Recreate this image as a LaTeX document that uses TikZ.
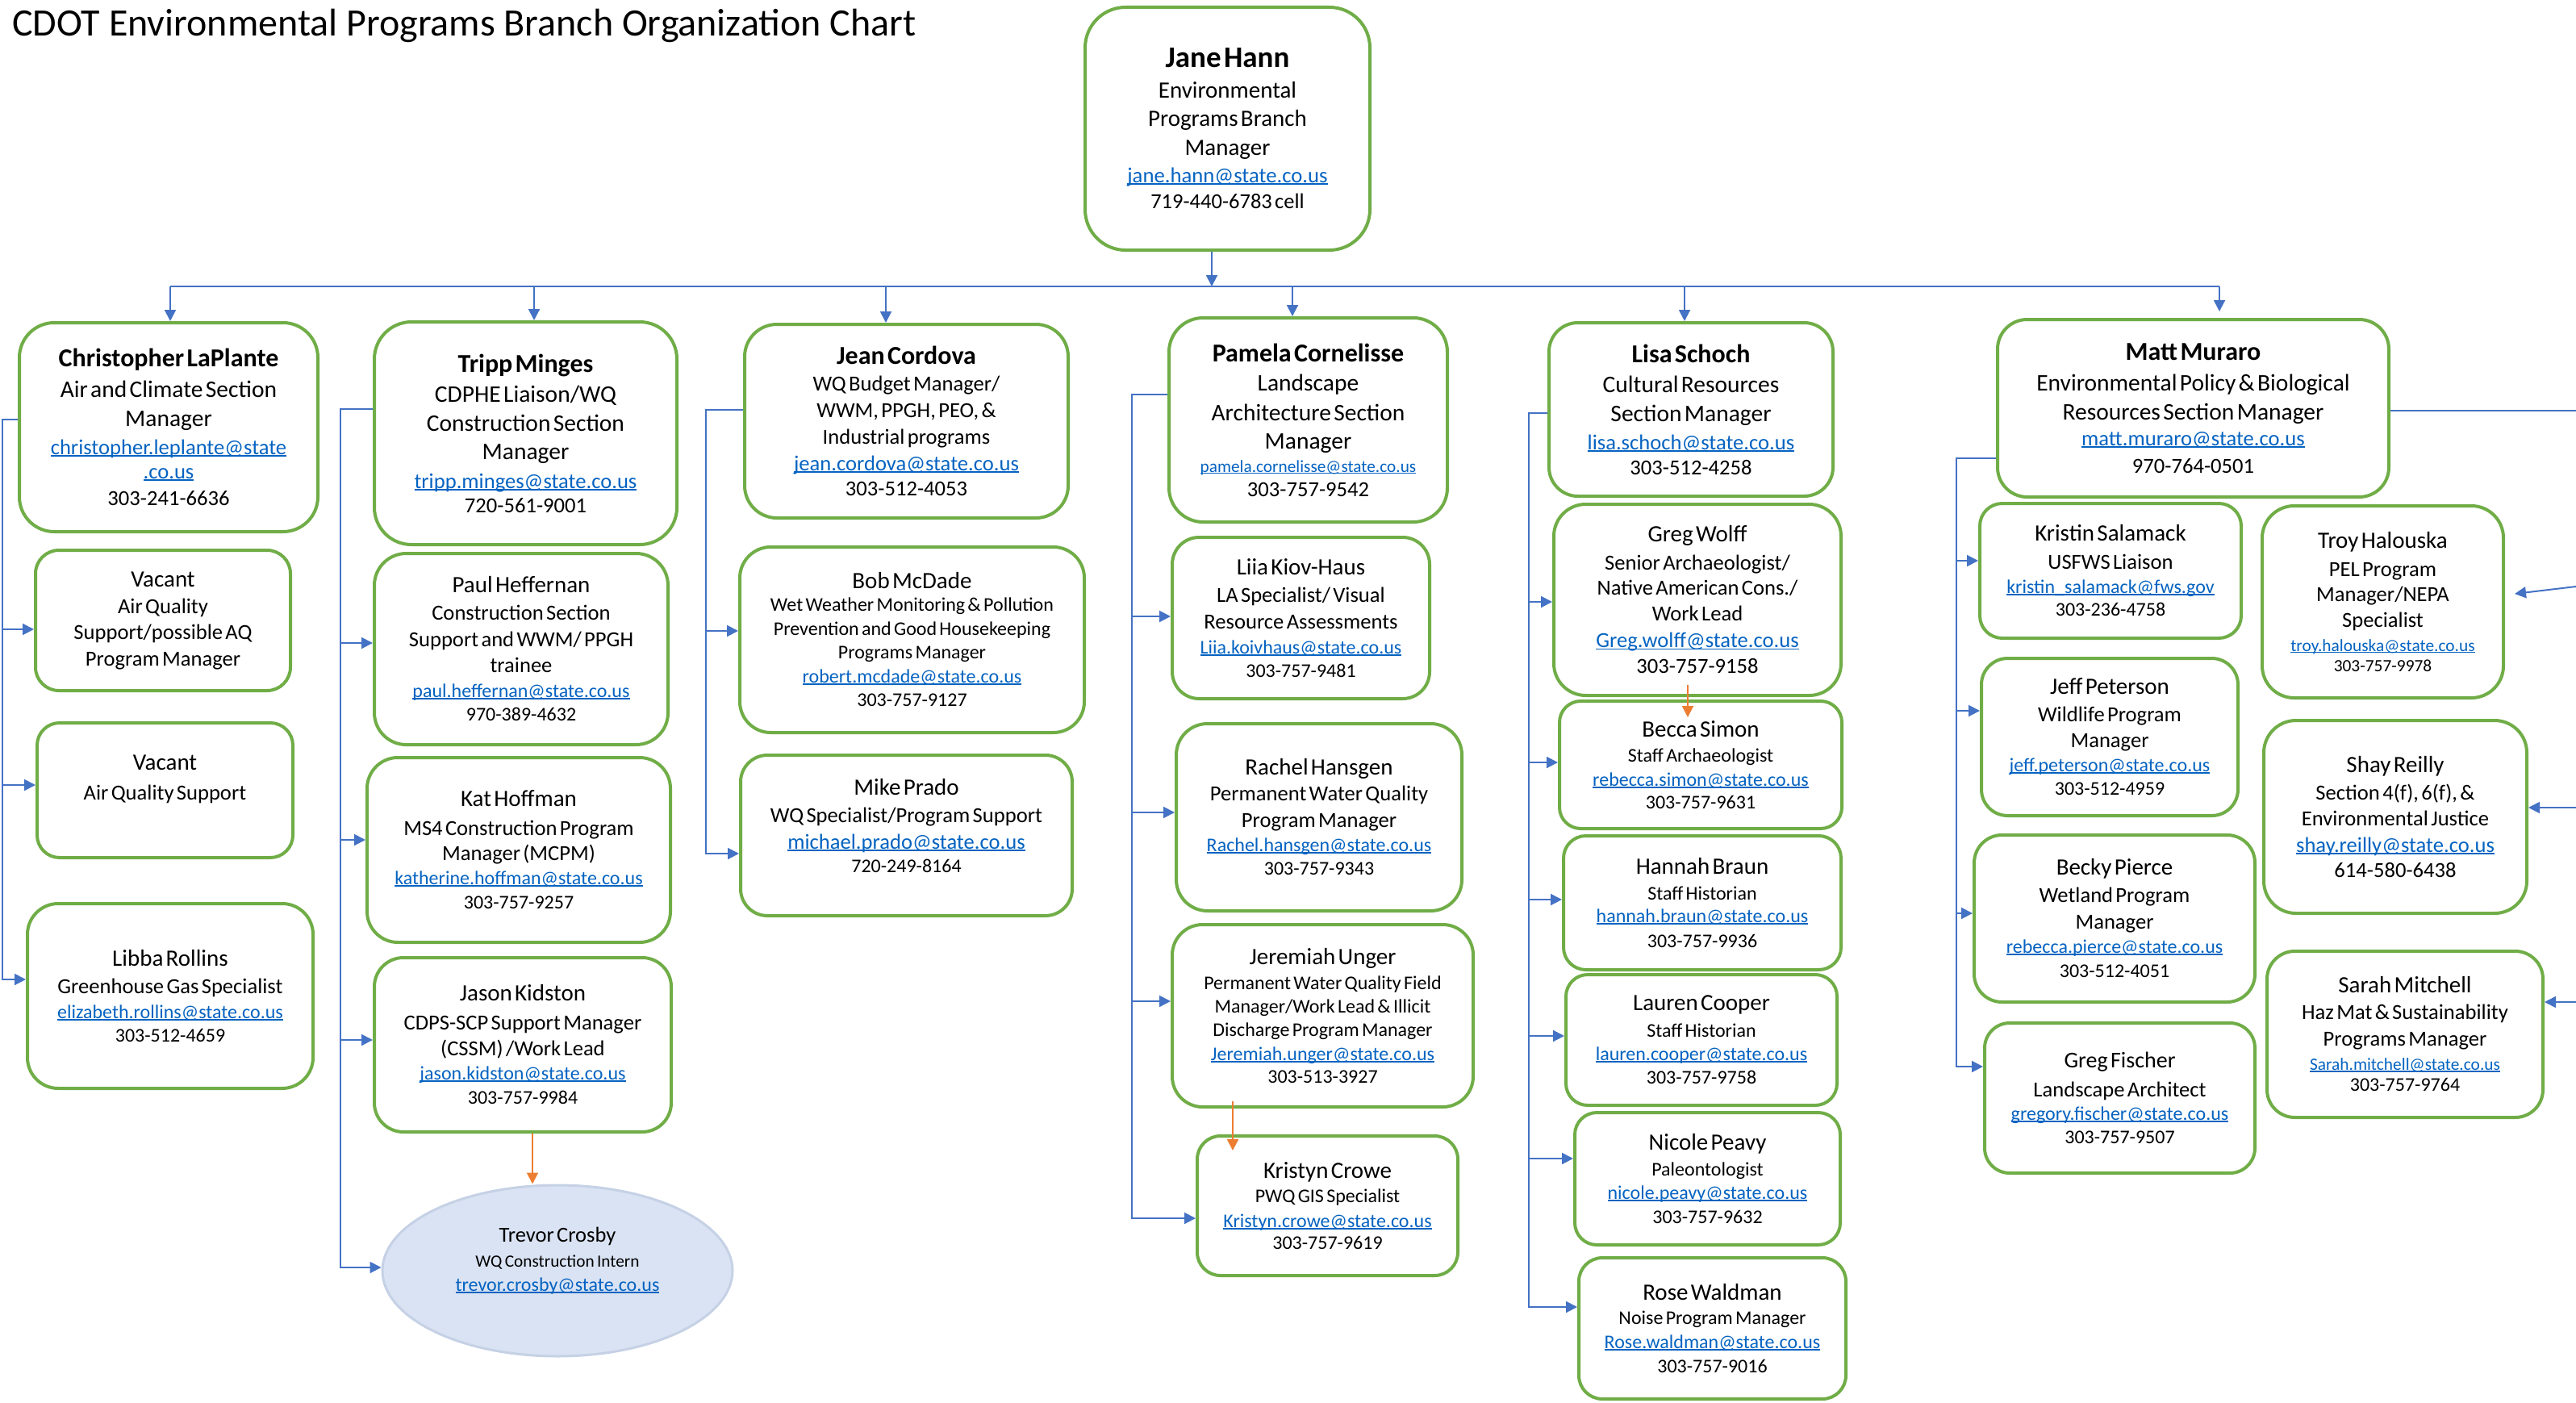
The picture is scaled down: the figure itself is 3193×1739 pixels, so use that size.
\documentclass[tikz,border=0pt]{standalone}
\usepackage{fontspec}
\setmainfont{Carlito}
\usetikzlibrary{arrows.meta,shapes.geometric,calc}
\definecolor{grn}{HTML}{70AD47}
\definecolor{blu}{HTML}{4472C4}
\definecolor{org}{HTML}{ED7D31}
\definecolor{lnk}{HTML}{0563C1}
\definecolor{elfill}{HTML}{DAE3F3}
\definecolor{eldraw}{HTML}{C5D1E5}
\newcommand\Tl[3]{{\fontsize{#1}{#2}\selectfont #3\par}}
\newcommand\Tb[3]{{\fontsize{#1}{#2}\selectfont\bfseries #3\par}}
\newcommand\mail[1]{\textcolor{lnk}{\setbox0=\hbox{#1}\rlap{\rule[-0.09em]{\wd0}{0.07em}}\box0}}
\tikzset{
  pbx/.style={draw=grn, line width=4pt, fill=white, inner sep=0pt, align=center,
    execute at begin node={\parindent=0pt\parskip=0pt}},
  ell/.style={ellipse, draw=eldraw, line width=3pt, fill=elfill, inner sep=0pt, align=center,
    execute at begin node={\parindent=0pt\parskip=0pt}},
  arr/.style={draw=blu, line width=2pt, -{Triangle[length=14pt,width=14pt]}},
  trunk/.style={draw=blu, line width=2pt},
  oarr/.style={draw=org, line width=2pt, -{Triangle[length=14pt,width=14pt]}},
}
\newcommand\pbox[6]{%
  \pgfmathsetmacro\pbW{#4-#2}%
  \pgfmathsetmacro\pbH{#5-#3}%
  \pgfmathsetmacro\pbR{min(\pbW,\pbH)/6}%
  \pgfmathsetmacro\pbT{\pbW-12}%
  \node[pbx, minimum width=\pbW pt, minimum height=\pbH pt, text width=\pbT pt,
    rounded corners=\pbR pt] (#1) at ({(#2+#4)/2},{(#3+#5)/2}) {#6};}
\begin{document}
\begin{tikzpicture}[x=1pt,y=-1pt]
\useasboundingbox (0,0) rectangle (3193,1739);
\node[anchor=base west, inner sep=0pt, font=\fontsize{48}{58}\selectfont] (title) at (15,45)
  {CDOT Environmental Programs Branch Organization Chart};

% top
\pbox{jane}{1345}{9}{1698}{310}{\Tb{37}{44}{Jane Hann}\Tl{29}{38}{Environmental}\Tl{29}{35}{Programs Branch}\Tl{29}{36}{Manager}\Tl{26.7}{34}{\mail{jane.hann@state.co.us}}\Tl{26.5}{32}{719-440-6783 cell}}

% section heads
\pbox{chris}{24}{400}{394}{659}{\Tb{32}{38}{Christopher LaPlante}\Tl{29.5}{38}{Air and Climate Section}\Tl{29.5}{36}{Manager}\Tl{26.6}{35}{\mail{christopher.leplante@state}}\Tl{26.6}{30}{\mail{.co.us}}\Tl{26.6}{33}{303-241-6636}}
\pbox{tripp}{464}{399}{839}{675}{\Tb{32}{38}{Tripp Minges}\Tl{29.5}{37}{CDPHE Liaison/WQ}\Tl{29.5}{36}{Construction Section}\Tl{29.5}{35}{Manager}\Tl{26.6}{36}{\mail{tripp.minges@state.co.us}}\Tl{26.6}{30}{720-561-9001}}
\pbox{jean}{923}{402}{1324}{642}{\Tb{32}{38}{Jean Cordova}\Tl{26.6}{33}{WQ Budget Manager/}\Tl{26.6}{33}{WWM, PPGH, PEO, \&}\Tl{26.6}{33}{Industrial programs}\Tl{26.6}{33}{\mail{jean.cordova@state.co.us}}\Tl{26.6}{31}{303-512-4053}}
\pbox{pam}{1449}{394}{1794}{647}{\Tb{32}{38}{Pamela Cornelisse}\Tl{29.5}{36}{Landscape}\Tl{29.5}{37}{Architecture Section}\Tl{29.5}{35}{Manager}\Tl{21.3}{29}{\mail{pamela.cornelisse@state.co.us}}\Tl{26.6}{30}{303-757-9542}}
\pbox{lisa}{1920}{400}{2272}{615}{\Tb{32}{38}{Lisa Schoch}\Tl{29.5}{37}{Cultural Resources}\Tl{29.5}{36}{Section Manager}\Tl{26.6}{35}{\mail{lisa.schoch@state.co.us}}\Tl{26.6}{31}{303-512-4258}}
\pbox{matt}{2476}{396}{2961}{616}{\Tb{32}{38}{Matt Muraro}\Tl{29.5}{38}{Environmental Policy \& Biological}\Tl{29.5}{36}{Resources Section Manager}\Tl{26.6}{32}{\mail{matt.muraro@state.co.us}}\Tl{26.6}{34}{970-764-0501}}

% column 1
\pbox{vac1}{44}{682}{360}{856}{\Tl{29}{34}{Vacant}\Tl{26.6}{33}{Air Quality}\Tl{26.6}{32}{Support/possible AQ}\Tl{26.6}{33}{Program Manager}}
\pbox{vac2}{46}{896}{363}{1063}{\Tl{29}{34}{Vacant}\Tl{26.6}{37}{Air Quality Support}\Tl{26.6}{32}{\mbox{}}}
\pbox{libba}{34}{1120}{388}{1349}{\Tl{29}{34}{Libba Rollins}\Tl{26.6}{34}{Greenhouse Gas Specialist}\Tl{24}{31}{\mail{elizabeth.rollins@state.co.us}}\Tl{24}{29}{303-512-4659}}

% column 2
\pbox{paul}{464}{686}{828}{923}{\Tl{29}{34}{Paul Heffernan}\Tl{26.6}{34}{Construction Section}\Tl{26.6}{33}{Support and WWM/ PPGH}\Tl{26.6}{32}{trainee}\Tl{24}{31}{\mail{paul.heffernan@state.co.us}}\Tl{24}{29}{970-389-4632}}
\pbox{kat}{455}{939}{831}{1168}{\Tl{29}{34}{Kat Hoffman}\Tl{26.6}{36}{MS4 Construction Program}\Tl{26.6}{31}{Manager (MCPM)}\Tl{24}{30}{\mail{katherine.hoffman@state.co.us}}\Tl{24}{30}{303-757-9257}}
\pbox{jason}{464}{1187}{832}{1403}{\Tl{29}{34}{Jason Kidston}\Tl{26.6}{36}{CDPS-SCP Support Manager}\Tl{26.6}{32}{(CSSM) /Work Lead}\Tl{24}{30}{\mail{jason.kidston@state.co.us}}\Tl{24}{30}{303-757-9984}}
\node[ell, minimum width=434pt, minimum height=212pt, text width=290pt] (trevor) at (691,1575)
  {\Tl{26.5}{32}{Trevor Crosby}\Tl{21.3}{31}{WQ Construction Intern}\Tl{24}{30}{\mail{trevor.crosby@state.co.us}}\Tl{24}{28}{\mbox{}}};

% column 3
\pbox{bob}{917}{678}{1344}{908}{\Tl{29}{34}{Bob McDade}\Tl{24}{28}{Wet Weather Monitoring \& Pollution}\Tl{24}{30}{Prevention and Good Housekeeping}\Tl{24}{29}{Programs Manager}\Tl{24}{30}{\mail{robert.mcdade@state.co.us}}\Tl{24}{29}{303-757-9127}}
\pbox{mike}{918}{936}{1329}{1135}{\Tl{29}{34}{Mike Prado}\Tl{26.6}{34}{WQ Specialist/Program Support}\Tl{26.6}{33}{\mail{michael.prado@state.co.us}}\Tl{24}{29}{720-249-8164}\Tl{24}{24}{\mbox{}}}

% column 4
\pbox{liia}{1453}{666}{1772}{866}{\Tl{29}{34}{Liia Kiov-Haus}\Tl{26.6}{34}{LA Specialist/ Visual}\Tl{26.6}{33}{Resource Assessments}\Tl{24}{31}{\mail{Liia.koivhaus@state.co.us}}\Tl{24}{29}{303-757-9481}}
\pbox{rachel}{1458}{897}{1812}{1129}{\Tl{29}{34}{Rachel Hansgen}\Tl{26.6}{32}{Permanent Water Quality}\Tl{26.6}{33}{Program Manager}\Tl{24}{30}{\mail{Rachel.hansgen@state.co.us}}\Tl{24}{29}{303-757-9343}}
\pbox{jer}{1453}{1146}{1826}{1372}{\Tl{29}{34}{Jeremiah Unger}\Tl{24}{31}{Permanent Water Quality Field}\Tl{24}{29}{Manager/Work Lead \& Illicit}\Tl{24}{29}{Discharge Program Manager}\Tl{24}{30}{\mail{Jeremiah.unger@state.co.us}}\Tl{24}{28}{303-513-3927}}
\pbox{kri}{1484}{1408}{1807}{1581}{\Tl{29}{34}{Kristyn Crowe}\Tl{24}{30}{PWQ GIS Specialist}\Tl{24}{31}{\mail{Kristyn.crowe@state.co.us}}\Tl{24}{27}{303-757-9619}}

% column 5
\pbox{gwolff}{1926}{625}{2282}{862}{\Tl{29}{34}{Greg Wolff}\Tl{26.6}{35}{Senior Archaeologist/}\Tl{26.6}{31}{Native American Cons./}\Tl{26.6}{32}{Work Lead}\Tl{26.6}{33}{\mail{Greg.wolff@state.co.us}}\Tl{26.6}{32}{303-757-9158}}
\pbox{becca}{1933}{869}{2283}{1027}{\Tl{29}{34}{Becca Simon}\Tl{24}{31}{Staff Archaeologist}\Tl{24}{30}{\mail{rebecca.simon@state.co.us}}\Tl{24}{28}{303-757-9631}}
\pbox{hannah}{1938}{1036}{2282}{1202}{\Tl{29}{34}{Hannah Braun}\Tl{24}{32}{Staff Historian}\Tl{24}{28}{\mail{hannah.braun@state.co.us}}\Tl{24}{31}{303-757-9936}}
\pbox{lauren}{1941}{1208}{2277}{1370}{\Tl{29}{34}{Lauren Cooper}\Tl{24}{33}{Staff Historian}\Tl{24}{29}{\mail{lauren.cooper@state.co.us}}\Tl{24}{29}{303-757-9758}}
\pbox{nicole}{1952}{1379}{2281}{1543}{\Tl{29}{34}{Nicole Peavy}\Tl{24}{32}{Paleontologist}\Tl{24}{29}{\mail{nicole.peavy@state.co.us}}\Tl{24}{30}{303-757-9632}}
\pbox{rose}{1957}{1559}{2288}{1734}{\Tl{29}{34}{Rose Waldman}\Tl{24}{30}{Noise Program Manager}\Tl{24}{30}{\mail{Rose.waldman@state.co.us}}\Tl{24}{30}{303-757-9016}}

% column 6
\pbox{kristin}{2454}{624}{2778}{791}{\Tl{29}{34}{Kristin Salamack}\Tl{26.6}{35}{USFWS Liaison}\Tl{24}{30}{\mail{kristin\_salamack@fws.gov}}\Tl{24}{28}{303-236-4758}}
\pbox{jeff}{2456}{816}{2774}{1011}{\Tl{29}{34}{Jeff Peterson}\Tl{26.6}{34}{Wildlife Program}\Tl{26.6}{32}{Manager}\Tl{24}{30}{\mail{jeff.peterson@state.co.us}}\Tl{24}{29}{303-512-4959}}
\pbox{becky}{2447}{1035}{2795}{1242}{\Tl{29}{34}{Becky Pierce}\Tl{26.6}{34}{Wetland Program}\Tl{26.6}{33}{Manager}\Tl{24}{30}{\mail{rebecca.pierce@state.co.us}}\Tl{24}{30}{303-512-4051}}
\pbox{gfischer}{2460}{1268}{2795}{1454}{\Tl{28}{34}{Greg Fischer}\Tl{26.6}{36}{Landscape Architect}\Tl{24}{29}{\mail{gregory.fischer@state.co.us}}\Tl{24}{29}{303-757-9507}}
\pbox{troy}{2804}{627}{3103}{865}{\Tl{29}{34}{Troy Halouska}\Tl{26.6}{35}{PEL Program}\Tl{26.6}{31}{Manager/NEPA}\Tl{26.6}{32}{Specialist}\Tl{21.4}{30}{\mail{troy.halouska@state.co.us}}\Tl{21.4}{25}{303-757-9978}}
\pbox{shay}{2806}{893}{3132}{1132}{\Tl{29}{34}{Shay Reilly}\Tl{26.6}{34}{Section 4(f), 6(f), \&}\Tl{26.6}{32}{Environmental Justice}\Tl{26.6}{33}{\mail{shay.reilly@state.co.us}}\Tl{26.6}{31}{614-580-6438}}
\pbox{sarah}{2810}{1179}{3152}{1385}{\Tl{29}{34}{Sarah Mitchell}\Tl{26.6}{33}{Haz Mat \& Sustainability}\Tl{26.6}{33}{Programs Manager}\Tl{21.4}{30}{\mail{Sarah.mitchell@state.co.us}}\Tl{24}{26}{303-757-9764}}

% bus and section arrows
\coordinate (jb) at (1502,355);
\coordinate (t1) at (211,355);
\coordinate (t2) at (662,355);
\coordinate (t3) at (1098,355);
\coordinate (t4) at (1602,355);
\coordinate (t5) at (2088,355);
\coordinate (t6) at (2751,355);
\draw[arr] (jane.south -| jb) -- (jb);
\draw[trunk] (t1) -- (t6);
\draw[arr] (t1) -- (t1 |- chris.north);
\draw[arr] (t2) -- (t2 |- tripp.north);
\draw[arr] (t3) -- (t3 |- jean.north);
\draw[arr] (t4) -- (t4 |- pam.north);
\draw[arr] (t5) -- (t5 |- lisa.north);
\draw[arr] (t6) -- ([yshift=8pt]t6 |- matt.north);

% column 1 connectors
\coordinate (c1) at (3,0);
\draw[arr] (chris.west |- 0,520) -- (c1 |- 0,520) -- (c1 |- 0,1214) -- (libba.west |- 0,1214);
\draw[arr] (c1 |- 0,780) -- (vac1.west |- 0,780);
\draw[arr] (c1 |- 0,973) -- (vac2.west |- 0,973);

% column 2 connectors
\coordinate (c2) at (422,0);
\draw[arr] (tripp.west |- 0,507) -- (c2 |- 0,507) -- (c2 |- 0,1571) -- (trevor.west |- 0,1571);
\draw[arr] (c2 |- 0,797) -- (paul.west |- 0,797);
\draw[arr] (c2 |- 0,1041) -- (kat.west |- 0,1041);
\draw[arr] (c2 |- 0,1289) -- (jason.west |- 0,1289);
\draw[oarr] (jason.south -| 660,0) -- (trevor.north -| 660,0);

% column 3 connectors
\coordinate (c3) at (875,0);
\draw[arr] (jean.west |- 0,508) -- (c3 |- 0,508) -- (c3 |- 0,1058) -- (mike.west |- 0,1058);
\draw[arr] (c3 |- 0,782) -- (bob.west |- 0,782);

% column 4 connectors
\coordinate (c4) at (1403,0);
\draw[arr] (pam.west |- 0,489) -- (c4 |- 0,489) -- (c4 |- 0,1510) -- (kri.west |- 0,1510);
\draw[arr] (c4 |- 0,764) -- (liia.west |- 0,764);
\draw[arr] (c4 |- 0,1007) -- (rachel.west |- 0,1007);
\draw[arr] (c4 |- 0,1241) -- (jer.west |- 0,1241);
\draw[oarr] ([yshift=9pt]jer.south -| 1528,0) -- ([yshift=-20pt]kri.north -| 1528,0);

% column 5 connectors
\coordinate (c5) at (1895,0);
\draw[arr] (lisa.west |- 0,512) -- (c5 |- 0,512) -- (c5 |- 0,1620) -- (rose.west |- 0,1620);
\draw[arr] (c5 |- 0,746) -- (gwolff.west |- 0,746);
\draw[arr] (c5 |- 0,945) -- (becca.west |- 0,945);
\draw[arr] (c5 |- 0,1115) -- (hannah.west |- 0,1115);
\draw[arr] (c5 |- 0,1284) -- (lauren.west |- 0,1284);
\draw[arr] (c5 |- 0,1436) -- (nicole.west |- 0,1436);
\draw[oarr] ([yshift=15pt]gwolff.south -| 2092,0) -- ([yshift=-22pt]becca.north -| 2092,0);

% column 6 connectors
\coordinate (c6) at (2425,0);
\draw[arr] (matt.west |- 0,568) -- (c6 |- 0,568) -- (c6 |- 0,1322) -- (gfischer.west |- 0,1322);
\draw[arr] (c6 |- 0,695) -- (kristin.west |- 0,695);
\draw[arr] (c6 |- 0,881) -- (jeff.west |- 0,881);
\draw[arr] (c6 |- 0,1132) -- (becky.west |- 0,1132);

% right side
\coordinate (rm) at (3193,509);
\coordinate (r1) at (3193,727);
\coordinate (r2) at (3193,1001);
\coordinate (r3) at (3193,1242);
\draw[trunk] (matt.east |- rm) -- (rm);
\draw[arr] (r1) -- ([xshift=12pt,yshift=10pt]troy.east);
\draw[arr] (r2) -- (shay.east |- r2);
\draw[arr] (r3) -- (sarah.east |- r3);
\end{tikzpicture}
\end{document}
